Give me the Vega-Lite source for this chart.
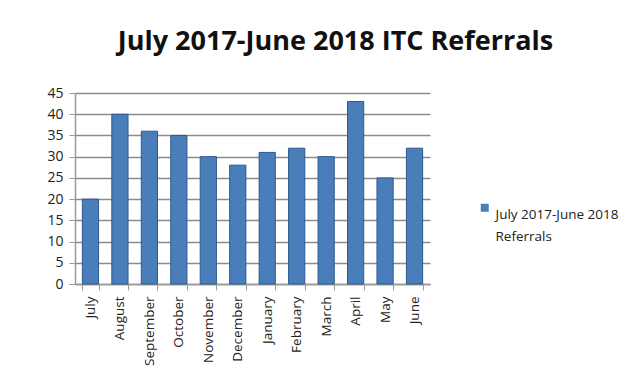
{
  "$schema": "https://vega.github.io/schema/vega-lite/v6.json",
  "autosize": "none",
  "width": 355,
  "height": 191,
  "padding": {"left": 75, "top": 93, "right": 212, "bottom": 106},
  "background": "white",
  "title": {
    "text": "July 2017-June 2018 ITC Referrals",
    "font": "Open Sans",
    "fontSize": 27,
    "fontWeight": "bold",
    "color": "#111111",
    "anchor": "middle",
    "frame": "group",
    "dx": 83,
    "offset": 30
  },
  "data": {
    "values": [
      {"month": "July", "value": 20, "series": "July 2017-June 2018 Referrals"},
      {"month": "August", "value": 40, "series": "July 2017-June 2018 Referrals"},
      {"month": "September", "value": 36, "series": "July 2017-June 2018 Referrals"},
      {"month": "October", "value": 35, "series": "July 2017-June 2018 Referrals"},
      {"month": "November", "value": 30, "series": "July 2017-June 2018 Referrals"},
      {"month": "December", "value": 28, "series": "July 2017-June 2018 Referrals"},
      {"month": "January", "value": 31, "series": "July 2017-June 2018 Referrals"},
      {"month": "February", "value": 32, "series": "July 2017-June 2018 Referrals"},
      {"month": "March", "value": 30, "series": "July 2017-June 2018 Referrals"},
      {"month": "April", "value": 43, "series": "July 2017-June 2018 Referrals"},
      {"month": "May", "value": 25, "series": "July 2017-June 2018 Referrals"},
      {"month": "June", "value": 32, "series": "July 2017-June 2018 Referrals"}
    ]
  },
  "mark": {"type": "bar", "stroke": "#2C5A8C", "strokeWidth": 1},
  "encoding": {
    "x": {
      "field": "month",
      "type": "nominal",
      "sort": null,
      "scale": {"paddingInner": 0.45, "paddingOuter": 0.25},
      "axis": {
        "title": null,
        "labelAngle": -90,
        "labelAlign": "right",
        "labelBaseline": "middle",
        "labelFont": "Open Sans",
        "labelFontSize": 13.5,
        "labelColor": "#222222",
        "labelPadding": 6,
        "domainColor": "#999999",
        "domainWidth": 1.5,
        "tickColor": "#999999",
        "tickSize": 6,
        "tickBand": "extent"
      }
    },
    "y": {
      "field": "value",
      "type": "quantitative",
      "scale": {"domain": [0, 45], "nice": false},
      "axis": {
        "title": null,
        "values": [0, 5, 10, 15, 20, 25, 30, 35, 40, 45],
        "labelFont": "Open Sans",
        "labelFontSize": 14,
        "labelColor": "#222222",
        "labelPadding": 6,
        "domainColor": "#999999",
        "domainWidth": 1.5,
        "tickColor": "#999999",
        "tickSize": 6,
        "gridColor": "#8c8c8c",
        "gridWidth": 1.5
      }
    },
    "color": {
      "field": "series",
      "type": "nominal",
      "scale": {"range": ["#4A7EBB"]},
      "legend": {
        "title": null,
        "orient": "none",
        "legendX": 403,
        "legendY": 108,
        "symbolType": "square",
        "symbolSize": 64,
        "symbolStrokeWidth": 0,
        "labelFont": "Open Sans",
        "labelFontSize": 13.5,
        "labelColor": "#222222",
        "labelLimit": 300,
        "labelBaseline": "top",
        "labelExpr": "['July 2017-June 2018', 'Referrals']",
        "labelOffset": 4,
        "rowPadding": 0
      }
    }
  },
  "config": {
    "view": {"stroke": null},
    "style": {"guide-label": {"lineHeight": 22}}
  }
}
